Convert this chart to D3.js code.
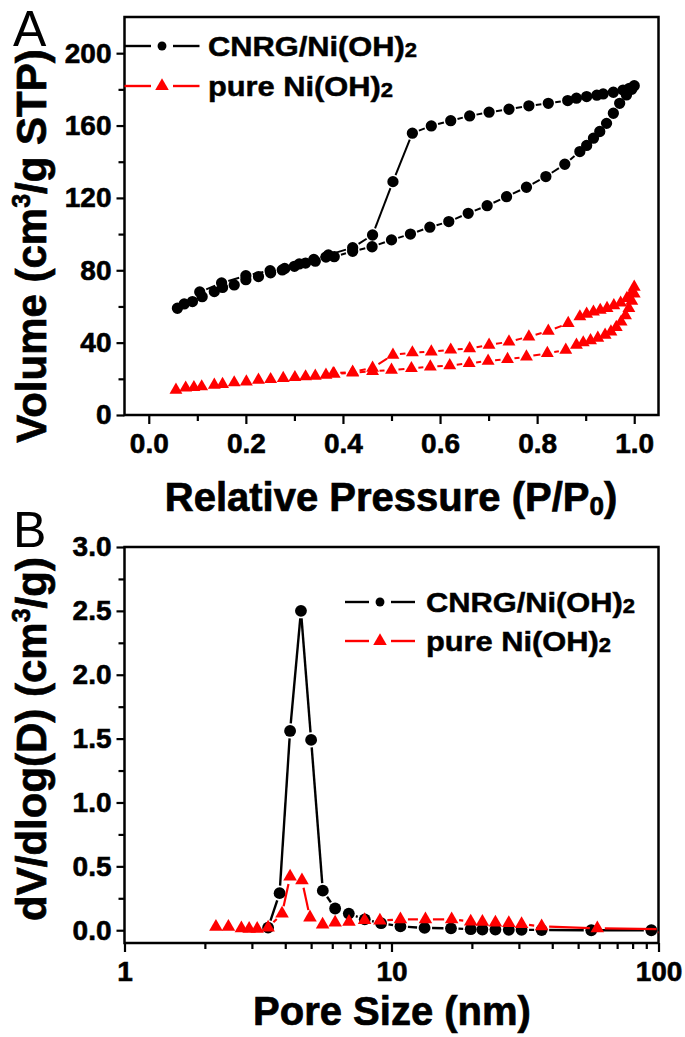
<!DOCTYPE html>
<html>
<head>
<meta charset="utf-8">
<script src="https://cdn.jsdelivr.net/npm/d3@7"></script>
<style>
  html, body { margin: 0; padding: 0; background: #fff; }
  svg { display: block; }
  text { font-family: "Liberation Sans", Arial, Helvetica, sans-serif; fill: #000; }
</style>
</head>
<body>
<svg id="chart" width="685" height="1037"></svg>
<script>
// ---- panel A: N2 isotherms, [P/P0, volume] ----
const cnrgAdsorption = [
  [0.059, 59.0], [0.073, 61.4], [0.090, 62.7], [0.110, 65.4], [0.135, 68.2], [0.152, 70.5],
  [0.176, 71.9], [0.200, 74.8], [0.226, 76.5], [0.251, 78.6], [0.275, 80.2], [0.300, 82.2],
  [0.323, 84.0], [0.343, 85.0], [0.365, 87.3], [0.382, 87.5], [0.420, 90.5], [0.460, 93.0],
  [0.500, 96.8], [0.539, 100.0], [0.579, 103.8], [0.618, 106.9], [0.658, 111.5], [0.697, 115.7],
  [0.737, 120.7], [0.778, 125.9], [0.818, 131.8], [0.857, 138.6], [0.888, 145.6], [0.902, 149.0],
  [0.916, 153.0], [0.929, 156.7], [0.943, 161.2], [0.957, 166.8], [0.970, 172.3], [0.984, 176.9],
  [0.995, 180.0], [1.000, 182.0]
];
const cnrgDesorption = [
  [0.990, 180.6], [0.977, 179.6], [0.957, 178.4], [0.936, 177.5], [0.923, 176.8], [0.902, 176.0],
  [0.881, 175.1], [0.863, 173.8], [0.823, 172.3], [0.783, 170.9], [0.742, 169.0], [0.701, 167.4],
  [0.661, 165.3], [0.622, 162.7], [0.582, 159.8], [0.543, 155.8], [0.503, 129.0], [0.461, 99.5],
  [0.420, 92.5], [0.370, 88.5], [0.340, 86.0], [0.310, 83.5], [0.280, 81.0], [0.250, 79.8],
  [0.200, 77.0], [0.150, 73.0], [0.105, 68.0]
];
const pureAdsorption = [
  [0.056, 13.8], [0.076, 15.0], [0.093, 15.3], [0.109, 15.7], [0.135, 16.6], [0.152, 17.0],
  [0.176, 17.9], [0.201, 18.4], [0.226, 19.4], [0.251, 19.7], [0.277, 20.3], [0.301, 20.8],
  [0.323, 21.2], [0.343, 21.6], [0.365, 22.1], [0.382, 22.7], [0.420, 23.4], [0.461, 24.2],
  [0.500, 24.9], [0.541, 25.8], [0.580, 26.7], [0.620, 27.4], [0.660, 28.6], [0.699, 29.9],
  [0.739, 30.8], [0.778, 32.2], [0.821, 34.1], [0.859, 35.9], [0.881, 38.7], [0.895, 40.0],
  [0.910, 41.2], [0.925, 42.6], [0.940, 44.2], [0.952, 46.0], [0.963, 48.5], [0.973, 51.5],
  [0.982, 55.0], [0.989, 59.0], [0.995, 63.0], [1.000, 67.0], [1.000, 70.8]
];
const pureDesorption = [
  [0.995, 67.5], [0.985, 64.5], [0.972, 62.0], [0.958, 60.5], [0.944, 59.0], [0.930, 58.0],
  [0.916, 57.0], [0.902, 55.8], [0.888, 54.4], [0.864, 50.7], [0.823, 46.4], [0.783, 43.3],
  [0.742, 40.5], [0.701, 38.7], [0.661, 36.8], [0.622, 36.0], [0.582, 35.0], [0.543, 34.5],
  [0.503, 33.2], [0.461, 26.0], [0.420, 23.8], [0.380, 23.0]
];

// ---- panel B: pore size distribution, [nm, dV/dlog(D)] ----
const cnrgPores = [
  [3.45, 0.02], [3.81, 0.29], [4.17, 1.56], [4.58, 2.50], [5.00, 1.49], [5.53, 0.31],
  [6.15, 0.17], [6.92, 0.13], [7.94, 0.085], [9.14, 0.055], [10.8, 0.03], [13.3, 0.018],
  [16.7, 0.015], [19.8, 0.008], [21.9, 0.006], [24.5, 0.005], [27.5, 0.004], [30.7, 0.003],
  [36.5, 0.002], [56, 0.0], [94, 0.0]
];
const purePores = [
  [2.20, 0.026], [2.45, 0.026], [2.74, 0.015], [2.93, 0.01], [3.14, 0.01], [3.45, 0.02],
  [3.89, 0.13], [4.17, 0.42], [4.62, 0.39], [4.95, 0.10], [5.52, 0.045], [6.15, 0.06],
  [6.93, 0.065], [7.93, 0.08], [9.05, 0.075], [10.8, 0.085], [13.4, 0.085], [16.8, 0.085],
  [19.8, 0.068], [21.9, 0.065], [24.5, 0.06], [27.5, 0.055], [30.7, 0.048], [36.5, 0.03],
  [59, 0.015], [105, 0.008]
];

// ticks
const pressureTicks = [0, 0.2, 0.4, 0.6, 0.8, 1.0];
const pressureMinor = [0.1, 0.3, 0.5, 0.7, 0.9];
const volumeTicks = [0, 40, 80, 120, 160, 200];
const volumeMinor = [20, 60, 100, 140, 180];
const poreTicks = [1, 10, 100];
const poreMinor = [2, 3, 4, 5, 6, 7, 8, 9, 20, 30, 40, 50, 60, 70, 80, 90];
const distTicks = [0, 0.5, 1.0, 1.5, 2.0, 2.5, 3.0];
const distMinor = [0.25, 0.75, 1.25, 1.75, 2.25, 2.75];

const legendNames = ['CNRG/Ni(OH)', 'pure Ni(OH)'];

const RED = '#ff0000';
const svg = d3.select('#chart');

const boxA = { left: 124.5, right: 658.5, top: 17, bottom: 415 };
const boxB = { left: 124.5, right: 658.5, top: 547, bottom: 943 };

const xA = d3.scaleLinear().domain([-0.05, 1.05]).range([boxA.left, boxA.right]);
const yA = d3.scaleLinear().domain([0, 220]).range([boxA.bottom, boxA.top]);
const xB = d3.scaleLog().domain([1, 100]).range([boxB.left, boxB.right]);
const yB = d3.scaleLinear().domain([-0.1, 3.0]).range([boxB.bottom, boxB.top]);

const circle = d3.symbol().type(d3.symbolCircle);
const triangle = d3.symbol().type(d3.symbolTriangle);

function heavy(sel, w) {
  sel.attr('stroke', '#000').attr('stroke-width', w).attr('paint-order', 'stroke');
}

function styleAxis(g) {
  g.select('.domain').remove();
  g.selectAll('.tick line').attr('stroke', '#000').attr('stroke-width', 2.2);
  g.selectAll('.tick text')
    .attr('fill', '#000')
    .style('font-family', '"Liberation Sans", Arial, sans-serif')
    .style('font-size', '28px')
    .style('font-weight', 'bold')
    .call(heavy, 0.6);
}

function drawAxes(box, x, y, xt, xm, yt, ym, xfmt, yfmt) {
  svg.append('g')
    .attr('transform', `translate(0,${box.bottom})`)
    .call(d3.axisBottom(x).tickValues(xm).tickSize(6).tickFormat(''))
    .call(styleAxis);
  svg.append('g')
    .attr('transform', `translate(0,${box.bottom})`)
    .call(d3.axisBottom(x).tickValues(xt).tickSize(9).tickPadding(9).tickFormat(xfmt))
    .call(styleAxis);
  svg.append('g')
    .attr('transform', `translate(${box.left},0)`)
    .call(d3.axisLeft(y).tickValues(ym).tickSize(6).tickFormat(''))
    .call(styleAxis);
  svg.append('g')
    .attr('transform', `translate(${box.left},0)`)
    .call(d3.axisLeft(y).tickValues(yt).tickSize(8).tickPadding(5).tickFormat(yfmt))
    .call(styleAxis);

  svg.append('rect')
    .attr('x', box.left)
    .attr('y', box.top)
    .attr('width', box.right - box.left)
    .attr('height', box.bottom - box.top)
    .attr('fill', 'none')
    .attr('stroke', '#000')
    .attr('stroke-width', 2.5);
}

// Origin-style line: segments stop short of each symbol
function gapSegments(pts, gap) {
  const segs = [];
  for (let i = 1; i < pts.length; i++) {
    const [x1, y1] = pts[i - 1];
    const [x2, y2] = pts[i];
    const d = Math.hypot(x2 - x1, y2 - y1);
    if (d <= gap * 2 + 1) continue;
    const ux = (x2 - x1) / d;
    const uy = (y2 - y1) / d;
    segs.push([x1 + ux * gap, y1 + uy * gap, x2 - ux * gap, y2 - uy * gap]);
  }
  return segs;
}

function drawSeries(layer, x, y, data, { color, symbol, size, gap, lineWidth }) {
  const pts = data.map((d) => [x(d[0]), y(d[1])]);
  layer.append('g')
    .selectAll('line')
    .data(gapSegments(pts, gap))
    .join('line')
    .attr('x1', (s) => s[0]).attr('y1', (s) => s[1])
    .attr('x2', (s) => s[2]).attr('y2', (s) => s[3])
    .attr('stroke', color)
    .attr('stroke-width', lineWidth)
    .attr('stroke-linecap', 'butt');
  layer.append('g')
    .selectAll('path')
    .data(pts)
    .join('path')
    .attr('transform', (p) => `translate(${p[0]},${p[1]})`)
    .attr('d', symbol.size(size)())
    .attr('fill', color);
}

function drawLegend(x0, y0, dy, lineLen, textX) {
  const items = [
    { name: legendNames[0], color: '#000', symbol: circle, size: 62 },
    { name: legendNames[1], color: RED, symbol: triangle, size: 80 },
  ];
  items.forEach((it, i) => {
    const cy = y0 + i * dy;
    const cx = x0 + lineLen / 2;
    const g = svg.append('g');
    g.append('line').attr('x1', x0).attr('x2', cx - 11).attr('y1', cy).attr('y2', cy)
      .attr('stroke', it.color).attr('stroke-width', 2.4);
    g.append('line').attr('x1', cx + 11).attr('x2', x0 + lineLen).attr('y1', cy).attr('y2', cy)
      .attr('stroke', it.color).attr('stroke-width', 2.4);
    g.append('path').attr('transform', `translate(${cx},${cy})`)
      .attr('d', it.symbol.size(it.size)()).attr('fill', it.color);
    // the legend lettering in the figure is a little wider than the font
    const t = g.append('text')
      .attr('transform', `translate(${textX},${cy + 10}) scale(1.1,1)`)
      .style('font-size', '28px').style('font-weight', 'bold')
      .call(heavy, 0.5);
    t.append('tspan').text(it.name);
    t.append('tspan').attr('dy', 1).style('font-size', '20px').text('2');
  });
}

// ---------------- panel A ----------------
drawAxes(boxA, xA, yA, pressureTicks, pressureMinor, volumeTicks, volumeMinor,
  d3.format('.1f'), d3.format('d'));

const layerA = svg.append('g');
drawSeries(layerA, xA, yA, cnrgAdsorption.concat(cnrgDesorption),
  { color: '#000', symbol: circle, size: 100, gap: 7, lineWidth: 2 });
drawSeries(layerA, xA, yA, pureAdsorption.concat(pureDesorption),
  { color: RED, symbol: triangle, size: 72, gap: 7, lineWidth: 2 });

drawLegend(124.5, 46, 40, 75, 208);

svg.append('text').attr('x', 13).attr('y', 45.5)
  .style('font-size', '50px').text('A');

svg.append('text')
  .attr('transform', 'translate(46,246) rotate(-90)')
  .attr('text-anchor', 'middle')
  .style('font-size', '42px').style('font-weight', 'bold')
  .call(heavy, 0.7)
  .call((t) => {
    t.append('tspan').text('Volume (cm');
    t.append('tspan').attr('dy', -16).style('font-size', '25px').text('3');
    t.append('tspan').attr('dy', 16).text('/g STP)');
  });

svg.append('text')
  .attr('x', 391).attr('y', 511)
  .attr('text-anchor', 'middle')
  .style('font-size', '40px').style('font-weight', 'bold')
  .call(heavy, 0.7)
  .call((t) => {
    t.append('tspan').text('Relative Pressure (P/P');
    t.append('tspan').attr('dy', 4).style('font-size', '26px').text('0');
    t.append('tspan').attr('dy', -4).text(')');
  });

// ---------------- panel B ----------------
drawAxes(boxB, xB, yB, poreTicks, poreMinor, distTicks, distMinor,
  (d) => String(d), d3.format('.1f'));

svg.append('clipPath').attr('id', 'clipB')
  .append('rect')
  .attr('x', boxB.left).attr('y', boxB.top)
  .attr('width', boxB.right - boxB.left).attr('height', boxB.bottom - boxB.top);

const layerB = svg.append('g').attr('clip-path', 'url(#clipB)');
drawSeries(layerB, xB, yB, cnrgPores,
  { color: '#000', symbol: circle, size: 110, gap: 7.5, lineWidth: 2.4 });
drawSeries(layerB, xB, yB, purePores,
  { color: RED, symbol: triangle, size: 80, gap: 7.5, lineWidth: 2.2 });

drawLegend(345, 602, 39, 70, 426);

svg.append('text').attr('x', 13).attr('y', 547)
  .style('font-size', '50px').text('B');

svg.append('text')
  .attr('transform', 'translate(46,739) rotate(-90)')
  .attr('text-anchor', 'middle')
  .style('font-size', '42px').style('font-weight', 'bold')
  .call(heavy, 0.7)
  .call((t) => {
    t.append('tspan').text('dV/dlog(D) (cm');
    t.append('tspan').attr('dy', -16).style('font-size', '25px').text('3');
    t.append('tspan').attr('dy', 16).text('/g)');
  });

svg.append('text')
  .attr('x', 392).attr('y', 1025)
  .attr('text-anchor', 'middle')
  .style('font-size', '40px').style('font-weight', 'bold')
  .call(heavy, 0.7)
  .text('Pore Size (nm)');
</script>
</body>
</html>
